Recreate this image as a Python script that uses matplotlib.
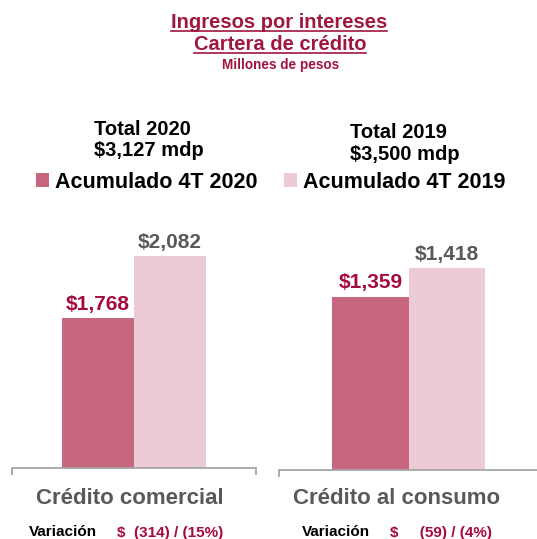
import matplotlib
matplotlib.use("Agg")
import matplotlib.pyplot as plt
from matplotlib.lines import Line2D

plt.rcParams['font.family'] = ['Liberation Sans', 'DejaVu Sans']
plt.rcParams['font.weight'] = 'bold'

# data
categories = ['Crédito comercial', 'Crédito al consumo']
series     = ['Acumulado 4T 2020', 'Acumulado 4T 2019']
val_2020   = [1768, 1359]
val_2019   = [2082, 1418]
total_lbl  = ['Total 2020', 'Total 2019']
total_amt  = ['$3,127 mdp', '$3,500 mdp']
var_money  = ['$  (314) / (15%)', '$     (59) / (4%)']
ymax       = [2217, 1497]

dark  = '#C8657F'
light = '#ECCBD6'
red   = '#A6093D'
gray  = '#595959'

W, H = 537, 539
fig = plt.figure(figsize=(W / 100, H / 100), dpi=100)

def fx(x): return x / W
def fy(y): return 1 - y / H

# axes boxes in pixels: left, right, bottom(baseline), top
boxes = [(12, 256, 467.7, 230), (279, 538, 470, 230)]
lab_x = [130, 397]
var_x = [(29, 117), (302, 390)]
tot_pos = [(94, 135, 156.5), (350, 137.5, 160)]

bars = []
for i, (l, r, b, t) in enumerate(boxes):
    ax = fig.add_axes([fx(l), fy(b), fx(r) - fx(l), fy(t) - fy(b)])
    w = 0.294
    b1 = ax.bar(-w / 2, val_2020[i], w, color=dark, label=series[0])
    b2 = ax.bar(w / 2, val_2019[i], w, color=light, label=series[1])
    bars = [b1, b2]
    ax.set_xlim(-0.5, 0.5)
    ax.set_ylim(1000, ymax[i])
    for s in ['top', 'right', 'left']:
        ax.spines[s].set_visible(False)
    ax.spines['bottom'].set_color('#A6A6A6')
    ax.spines['bottom'].set_linewidth(1.3)
    ax.set_yticks([])
    ax.set_xticks([-0.5, 0.5])
    ax.set_xticklabels([])
    ax.tick_params(axis='x', length=5, width=1.3, color='#A6A6A6')
    ax.annotate(f'${val_2020[i]:,}', (-w / 2, val_2020[i]), xytext=(0, 3),
                textcoords='offset points', ha='center', va='bottom',
                fontsize=15, color=red, fontweight='bold')
    ax.annotate(f'${val_2019[i]:,}', (w / 2, val_2019[i]), xytext=(0, 3),
                textcoords='offset points', ha='center', va='bottom',
                fontsize=15, color=gray, fontweight='bold')

    fig.text(fx(lab_x[i]), fy(504), categories[i], ha='center', va='baseline',
             fontsize=16, color=gray, fontweight='bold')
    fig.text(fx(var_x[i][0]), fy(536.5), 'Variación', ha='left', va='baseline',
             fontsize=11, color='black', fontweight='bold')
    fig.text(fx(var_x[i][1]), fy(536.5), var_money[i], ha='left', va='baseline',
             fontsize=11, color=red, fontweight='bold')

    # totals above each panel
    tx, ty1, ty2 = tot_pos[i]
    fig.text(fx(tx), fy(ty1), total_lbl[i], ha='left', va='baseline',
             fontsize=14.5, fontweight='bold')
    fig.text(fx(tx), fy(ty2), total_amt[i], ha='left', va='baseline',
             fontsize=14.5, fontweight='bold')

# legend
fig.legend(handles=bars, labels=series, loc='center left',
           bbox_to_anchor=(fx(36), fy(182)), ncol=2, frameon=False,
           fontsize=15.5, handlelength=0.6, handleheight=0.6,
           handletextpad=0.3, columnspacing=1.2, borderpad=0, borderaxespad=0)

# title
title_red = '#A1163F'
t1 = fig.text(fx(279), fy(28.5), 'Ingresos por intereses', ha='center',
              va='baseline', fontsize=14.5, color=title_red, fontweight='bold')
t2 = fig.text(fx(280), fy(50), 'Cartera de crédito', ha='center',
              va='baseline', fontsize=14.5, color=title_red, fontweight='bold')
fig.text(fx(281), fy(69.5), 'Millones de pesos', ha='center', va='baseline',
         fontsize=9.8, color=title_red, fontweight='bold')

# underline the two title lines
fig.canvas.draw()
rend = fig.canvas.get_renderer()
for t, uy in [(t1, 31), (t2, 52.5)]:
    bb = t.get_window_extent(rend).transformed(fig.transFigure.inverted())
    fig.add_artist(Line2D([bb.x0, bb.x1], [fy(uy), fy(uy)], color=title_red,
                          lw=1.2, transform=fig.transFigure))

fig.savefig('out.png', dpi=100)
